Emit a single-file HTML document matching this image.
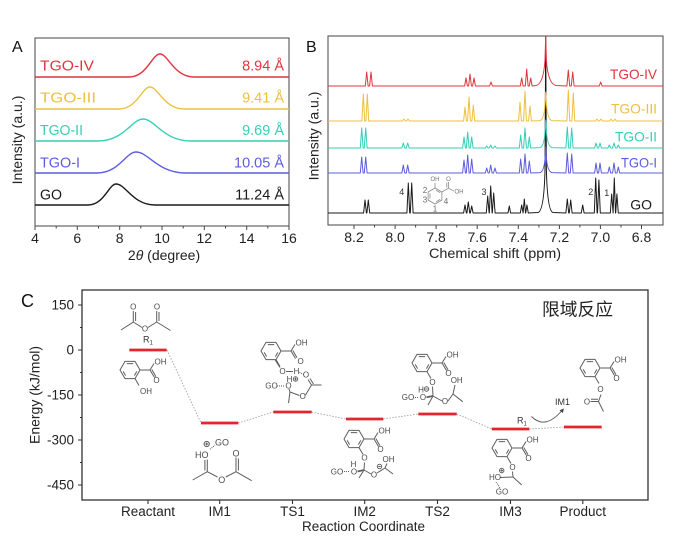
<!DOCTYPE html>
<html><head><meta charset="utf-8"><style>
html,body{margin:0;padding:0;background:#fff;}
svg{display:block;font-family:"Liberation Sans",Arial,sans-serif;}
</style></head><body>
<svg width="700" height="544" viewBox="0 0 700 544" xmlns="http://www.w3.org/2000/svg">
<defs>
<g id="sal" fill="none" stroke="#5e5e5e" stroke-width="1">
<polygon points="10,0 5,8.66 -5,8.66 -10,0 -5,-8.66 5,-8.66"/>
<path d="M-3.2,-6.4H3.2 M-4.4,5.6L-6.8,1.4 M6.8,1.4L4.4,5.6 M10,0H20 M20,0L24,-6.5 M20,0L24.5,7.5 M21.8,-0.5L26,6.8 M5,8.66L9,15.5"/>
</g>
</defs>
<rect width="700" height="544" fill="#fff"/>

<!-- ================= PANEL A ================= -->
<text x="12" y="52" font-size="16" fill="#111">A</text>
<rect x="35" y="38" width="254" height="188" fill="none" stroke="#444" stroke-width="1"/>
<g stroke="#444" stroke-width="1">
<path d="M35,226V230 M77.3,226V230 M119.7,226V230 M162,226V230 M204.3,226V230 M246.7,226V230 M289,226V230 M56.2,226V228.5 M98.5,226V228.5 M140.8,226V228.5 M183.2,226V228.5 M225.5,226V228.5 M267.8,226V228.5"/>
</g>
<g font-size="14" fill="#222" text-anchor="middle">
<text x="35" y="243">4</text><text x="77.3" y="243">6</text><text x="119.7" y="243">8</text><text x="162" y="243">10</text><text x="204.3" y="243">12</text><text x="246.7" y="243">14</text><text x="289" y="243">16</text>
</g>
<text x="164" y="260" font-size="14" fill="#222" text-anchor="middle">2<tspan font-style="italic">θ</tspan> (degree)</text>
<text transform="translate(22,140) rotate(-90)" font-size="14" fill="#222" text-anchor="middle">Intensity (a.u.)</text>
<g fill="none" stroke-width="1.4" stroke-linejoin="round">
<path stroke="#e0343c" d="M35,77 L129,77 C147,77 152,54 160,54 C168,54 174,77 194,77 L289,77"/>
<path stroke="#eec040" d="M35,109 L119,109 C137,109 142,87 150,87 C158,87 164,109 184,109 L289,109"/>
<path stroke="#34cfb6" d="M35,141 L98,141 C124,141 132,119 143,119 C155,119 163,141 191,141 L289,141"/>
<path stroke="#5c5ce0" d="M35,173 L97,173 C119,173 126,152 136,152 C148.6,152 157.6,173 186,173 L289,173"/>
<path stroke="#1a1a1a" d="M35,205 L88,205 C104,205 109,184 116,184 C125.8,184 132.8,205 155,205 L289,205"/>
</g>
<g font-size="14.5">
<text x="40" y="70.7" fill="#e0343c" textLength="54" lengthAdjust="spacingAndGlyphs">TGO-IV</text>
<text x="40" y="102.7" fill="#eec040" textLength="56" lengthAdjust="spacingAndGlyphs">TGO-III</text>
<text x="40" y="135" fill="#34cfb6" textLength="43" lengthAdjust="spacingAndGlyphs">TGO-II</text>
<text x="40" y="167.3" fill="#5c5ce0" textLength="40" lengthAdjust="spacingAndGlyphs">TGO-I</text>
<text x="40" y="199.3" fill="#1a1a1a" textLength="22" lengthAdjust="spacingAndGlyphs">GO</text>
<text x="284" y="70.7" fill="#e0343c" text-anchor="end">8.94 Å</text>
<text x="284" y="102.7" fill="#eec040" text-anchor="end">9.41 Å</text>
<text x="284" y="135" fill="#34cfb6" text-anchor="end">9.69 Å</text>
<text x="284" y="167.3" fill="#5c5ce0" text-anchor="end">10.05 Å</text>
<text x="284" y="199.3" fill="#1a1a1a" text-anchor="end">11.24 Å</text>
</g>

<!-- ================= PANEL B ================= -->
<text x="306" y="52" font-size="16" fill="#111">B</text>
<rect x="328" y="36" width="335" height="189" fill="none" stroke="#444" stroke-width="1"/>
<g stroke="#444" stroke-width="1">
<path d="M354,225V229 M395.1,225V229 M436.1,225V229 M477.2,225V229 M518.3,225V229 M559.4,225V229 M600.4,225V229 M641.5,225V229 M374.5,225V227.5 M415.6,225V227.5 M456.7,225V227.5 M497.8,225V227.5 M538.9,225V227.5 M579.9,225V227.5 M621,225V227.5"/>
</g>
<g font-size="14" fill="#222" text-anchor="middle">
<text x="354" y="242">8.2</text><text x="395.1" y="242">8.0</text><text x="436.1" y="242">7.8</text><text x="477.2" y="242">7.6</text><text x="518.3" y="242">7.4</text><text x="559.4" y="242">7.2</text><text x="600.4" y="242">7.0</text><text x="641.5" y="242">6.8</text>
</g>
<text x="495" y="258" font-size="14" fill="#222" text-anchor="middle" textLength="132" lengthAdjust="spacingAndGlyphs">Chemical shift (ppm)</text>
<text transform="translate(318.5,136) rotate(-90)" font-size="14" fill="#222" text-anchor="middle">Intensity (a.u.)</text>

<g fill="none" stroke-width="1" stroke-linejoin="round">
<path stroke="#1a1a1a" d="M328,213 L363.6,213 L365,200 L366.4,213 L366.9,213 L368.3,200 L369.7,213 L406.9,213 L408.3,183 L409.7,213 L410.3,213 L411.7,183 L413.1,213 L463.6,213 L465,205 L466.4,213 L466.9,213 L468.3,202 L469.7,213 L470.3,213 L471.7,206 L473.1,213 L486.3,213 L487.7,196 L489.1,213 L489.3,213 L490.7,186 L492.1,213 L492.3,213 L493.7,193 L495.1,213 L508,213 L509.3,206 L510.6,213 L520.3,213 L521.7,205 L523.1,213 L523.1,213 L524.3,199 L525.5,213 L525.7,213 L526.9,205 L528.3,213 L538,212.5 Q544,211 545,170 L545.7,36 L546.4,170 Q547.4,211 553,212.5 L565.9,213 L567.3,199 L568.7,213 L569.3,213 L570.7,200 L572.1,213 L581.3,213 L582.7,205 L584.1,213 L594.3,213 L595.7,178 L597.1,213 L597.5,213 L598.9,180 L600.3,213 L610.3,213 L611.7,194 L613.1,213 L613.1,213 L614.3,178 L615.5,213 L615.7,213 L616.9,194 L618.3,213 L663,213"/>
<path stroke="#e0343c" d="M328,86 L365.3,86 L366.7,72 L368.1,86 L369.6,86 L371,72 L372.4,86 L464.6,86 L466,78 L467.4,86 L468.6,86 L470,74 L471.4,86 L472.6,86 L474,78 L475.4,86 L489.6,86 L491,82 L492.4,86 L520.3,86 L521.7,78 L523.1,86 L525.3,86 L526.7,69 L528.1,86 L529.3,86 L530.7,78 L532.1,86 L536,85.5 Q543.5,84 545,60 L545.7,36 L546.4,60 Q548,84 556,85.5 L566.9,86 L568.3,70 L569.7,86 L571.3,86 L572.7,72 L574.1,86 L599.3,86 L600.7,82 L602.1,86 L663,86"/>
<path stroke="#eec040" d="M328,121 L361.9,121 L363.3,94 L364.7,121 L365.9,121 L367.3,94 L368.7,121 L402.6,121 L404,119 L405.4,121 L406.6,121 L408,119 L409.4,121 L463.6,121 L465,107 L466.4,121 L467.6,121 L469,97 L470.4,121 L471.9,121 L473.3,105 L474.7,121 L518.6,121 L520,102 L521.4,121 L523.6,121 L525,91 L526.4,121 L528.6,121 L530,106 L531.4,121 L540,120.6 Q544.5,119.5 545.2,100 L545.7,92 L546.2,100 Q547,119.5 552,120.6 L566.9,121 L568.3,90 L569.7,121 L571.9,121 L573.3,93 L574.7,121 L595.6,121 L597,119 L598.4,121 L599.6,121 L601,119 L602.4,121 L609.6,121 L611,119 L612.4,121 L613.6,121 L615,119 L616.4,121 L663,121"/>
<path stroke="#34cfb6" d="M328,148 L360.3,148 L361.7,128 L363.1,148 L364.3,148 L365.7,128 L367.1,148 L401.9,148 L403.3,143 L404.7,148 L406.3,148 L407.7,143 L409.1,148 L462.6,148 L464,137 L465.4,148 L466.3,148 L467.7,132 L469.1,148 L470.3,148 L471.7,137 L473.1,148 L485.3,148 L486.7,146 L488.1,148 L489.3,148 L490.7,145 L492.1,148 L493.6,148 L495,146 L496.4,148 L519.3,148 L520.7,135 L522.1,148 L523.6,148 L525,128 L526.4,148 L527.9,148 L529.3,137 L530.7,148 L540,147.6 Q544.5,146.5 545.2,128 L545.7,120 L546.2,128 Q547,146.5 552,147.6 L565.9,148 L567.3,127 L568.7,148 L570.3,148 L571.7,128 L573.1,148 L594.6,148 L596,143 L597.4,148 L598.6,148 L600,143 L601.4,148 L607.9,148 L609.3,145 L610.7,148 L612.6,148 L614,143 L615.4,148 L616.9,148 L618.3,145 L619.7,148 L663,148"/>
<path stroke="#5c5ce0" d="M328,173 L360.3,173 L361.7,157 L363.1,173 L364.3,173 L365.7,157 L367.1,173 L401.9,173 L403.3,165 L404.7,173 L406.3,173 L407.7,165 L409.1,173 L462.6,173 L464,160 L465.4,173 L466.3,173 L467.7,155 L469.1,173 L470.3,173 L471.7,159 L473.1,173 L485.3,173 L486.7,168 L488.1,173 L489.3,173 L490.7,165 L492.1,173 L493.6,173 L495,168 L496.4,173 L519.3,173 L520.7,159 L522.1,173 L523.6,173 L525,154 L526.4,173 L527.9,173 L529.3,161 L530.7,173 L540,172.6 Q544.5,171.5 545.2,155 L545.7,147 L546.2,155 Q547,171.5 552,172.6 L565.9,173 L567.3,153 L568.7,173 L570.3,173 L571.7,154 L573.1,173 L594.6,173 L596,163 L597.4,173 L598.6,173 L600,163 L601.4,173 L607.9,173 L609.3,167 L610.7,173 L612.6,173 L614,163 L615.4,173 L616.9,173 L618.3,167 L619.7,173 L663,173"/>
</g>
<g font-size="14">
<text x="657" y="79" fill="#e0343c" text-anchor="end" textLength="47" lengthAdjust="spacingAndGlyphs">TGO-IV</text>
<text x="657" y="113.3" fill="#eec040" text-anchor="end" textLength="46" lengthAdjust="spacingAndGlyphs">TGO-III</text>
<text x="657" y="141.7" fill="#34cfb6" text-anchor="end" textLength="42" lengthAdjust="spacingAndGlyphs">TGO-II</text>
<text x="657" y="167.7" fill="#5c5ce0" text-anchor="end" textLength="36" lengthAdjust="spacingAndGlyphs">TGO-I</text>
<text x="652" y="209.3" fill="#1a1a1a" text-anchor="end">GO</text>
</g>
<g font-size="9" fill="#333" text-anchor="middle">
<text x="401.7" y="195">4</text><text x="484" y="195">3</text><text x="590.7" y="195">2</text><text x="606.7" y="196">1</text>
</g>
<g fill="none" stroke="#8a8a8a" stroke-width="0.8">
<polygon points="435,188 441.9,192 441.9,200 435,204 428.1,200 428.1,192"/>
<path d="M430,193.5V198.5 M436,201.8L440.2,199.4 M436,190.2L440.2,192.6 M435,188V183 M441.9,192L448.5,188.2 M448.5,188.2V182 M446.8,187.5V182.5 M448.5,188.2L454,191.2"/>
</g>
<g fill="#777" font-size="6">
<text x="435" y="181" text-anchor="middle">OH</text>
<text x="448.5" y="181" text-anchor="middle">O</text>
<text x="454.5" y="193.5">OH</text>
</g>
<g fill="#666" font-size="8" text-anchor="middle">
<text x="425" y="193">2</text><text x="425" y="202.3">3</text><text x="446" y="204">4</text><text x="435" y="211.3">1</text>
</g>

<!-- ================= PANEL C ================= -->
<text x="21" y="307" font-size="18" fill="#111">C</text>
<rect x="82" y="290" width="566" height="210" fill="none" stroke="#333" stroke-width="1.3"/>
<g stroke="#333" stroke-width="1.1">
<path d="M78,305H82 M78,350H82 M78,395H82 M78,440H82 M78,485H82 M80,327.5H82 M80,372.5H82 M80,417.5H82 M80,462.5H82"/>
<path d="M148,500V504 M219.7,500V504 M292.5,500V504 M364.7,500V504 M437.5,500V504 M510.5,500V504 M582.8,500V504"/>
</g>
<g font-size="13.5" fill="#222" text-anchor="end">
<text x="74" y="309.7">150</text><text x="74" y="354.7">0</text><text x="74" y="399.7">-150</text><text x="74" y="444.7">-300</text><text x="74" y="489.7">-450</text>
</g>
<g font-size="13.5" fill="#222" text-anchor="middle">
<text x="148" y="516">Reactant</text><text x="219.7" y="516">IM1</text><text x="292.5" y="516">TS1</text><text x="364.7" y="516">IM2</text><text x="437.5" y="516">TS2</text><text x="510.5" y="516">IM3</text><text x="582.8" y="516">Product</text>
</g>
<text x="363.5" y="531" font-size="13.5" fill="#222" text-anchor="middle">Reaction Coordinate</text>
<text transform="translate(39.5,395) rotate(-90)" font-size="14" fill="#222" text-anchor="middle">Energy (kJ/mol)</text>
<text x="542" y="315.5" font-size="17.5" fill="#222" font-family="'Liberation Sans','Noto Sans CJK SC',sans-serif" textLength="71" lengthAdjust="spacingAndGlyphs">限域反应</text>

<g stroke="#9a9a9a" stroke-width="0.8" stroke-dasharray="1.5,1.5" fill="none">
<path d="M167,350L201,423 M238.3,423L273.3,412 M311.7,412L346,419 M383.3,419L418.3,414 M456.7,414L491.7,429 M529.3,429L564,427"/>
</g>
<g stroke="#e3262b" stroke-width="2.8">
<path d="M129.3,350H166.7 M201,423H238.3 M273.3,412H311.7 M346,419H383.3 M418.3,414H456.7 M491.7,429H529.3 M564,427H601.7"/>
</g>

<g fill="none" stroke="#5e5e5e" stroke-width="1">
<path d="M121,330L133.3,322 M133.3,322V311 M135.6,321V312 M133.3,322L142,327.5 M148,327.5L156.7,322 M156.7,322V311 M159,321V312 M156.7,322L170.5,330.5"/>
<path d="M192.7,480L207.3,471.7 M207.3,471.7V459.5 M204.9,470.5V460 M207.3,471.7L217.5,477 M225.8,477L236,471.7 M236,471.7V457.5 M238.4,470.5V458.5 M236,471.7L251.7,480.7"/>
<path d="M210,449.3L215,445" stroke-dasharray="1,1"/>
<circle cx="206.7" cy="444" r="2.6"/>
<path d="M205.2,444H208.2 M206.7,442.5V445.5"/>
<path d="M275,359.7L280,367.5 M286,371.5H293 M289,388.8L290,392 M290,392L288.5,403 M290,392L299.5,395.5 M305.5,395L311.5,385 M311.5,385L308,379.5 M313.5,384L310,378.5 M311.5,385H321.5"/>
<path d="M299.5,372.3L303.5,374.5 M277,386H285" stroke-dasharray="1,1"/>
<circle cx="295.5" cy="379" r="2.2"/>
<path d="M294.3,379H296.7 M295.5,377.8V380.2"/>
<path d="M364.5,462.5L364,470 M364,470L359,478 M364,470L371,474 M377,473L385,468 M385,468L387,463.5 M385,468L393,474"/>
<path d="M357.5,471.5L364,470" stroke-width="1.8"/>
<path d="M342,471.5L350,471.5" stroke-dasharray="1,1"/>
<circle cx="379.5" cy="466.5" r="2.2"/>
<path d="M378.3,466.5H380.7"/>
<path d="M432.5,386.5L433,396 M433,396L428,405 M433,396L442,401 M448,401L453,394 M453,394L455,385 M453,394L462.7,401.7"/>
<path d="M426.5,397.3L433,396" stroke-width="1.8"/>
<path d="M413,397.5L419,397.5" stroke-dasharray="1,1"/>
<circle cx="426.5" cy="389" r="2.2"/>
<path d="M425.3,389H427.7"/>
<path d="M512.5,471.5L513,477 M513,477L521.7,485 M513,477L500,477.5"/>
<path d="M496,482L500,488" stroke-dasharray="1,1"/>
<circle cx="501.7" cy="470.5" r="2.2"/>
<path d="M500.5,470.5H502.9 M501.7,469.3V471.7"/>
<path d="M601,394.5L598.5,401.5 M598.5,401.5H590.5 M598,399.3H591 M598.5,401.5L603.5,411.5"/>
<path d="M531.5,416.5Q545,430 561.5,411" stroke="#555" stroke-width="0.9"/>
</g>
<polygon points="564,408.5 559.5,410.2 562.8,413" fill="#444"/>
<use href="#sal" transform="translate(130,370)"/>
<use href="#sal" transform="translate(271,351)"/>
<use href="#sal" transform="translate(354,439)"/>
<use href="#sal" transform="translate(422,363)"/>
<use href="#sal" transform="translate(502,448)"/>
<use href="#sal" transform="translate(590,368)"/>

<g fill="#4a4a4a" font-size="8">
<text x="133.3" y="309.5" text-anchor="middle">O</text>
<text x="145" y="331.5" text-anchor="middle">O</text>
<text x="157" y="309.5" text-anchor="middle">O</text>
<text x="143" y="342.5" font-size="9" fill="#333">R<tspan font-size="6" dy="2">1</tspan></text>
<text x="154.5" y="364.5">OH</text>
<text x="156.5" y="383" text-anchor="middle">O</text>
<text x="140" y="394">OH</text>
<text x="195" y="458" font-size="9">HO</text>
<text x="215" y="445.5" font-size="9">GO</text>
<text x="221.7" y="483" text-anchor="middle" font-size="9">O</text>
<text x="236" y="456.5" text-anchor="middle" font-size="9">O</text>
<text x="295.5" y="345.5">OH</text>
<text x="297.5" y="364">O</text>
<text x="282.5" y="374" text-anchor="middle">O</text>
<text x="296.5" y="374" text-anchor="middle">H</text>
<text x="306" y="377.5" text-anchor="middle">O</text>
<text x="289.5" y="382" text-anchor="middle">H</text>
<text x="271.5" y="388.5" text-anchor="middle">GO</text>
<text x="288.5" y="388.5" text-anchor="middle">O</text>
<text x="302.7" y="399" text-anchor="middle">O</text>
<text x="378.5" y="433.5">OH</text>
<text x="380.5" y="452" text-anchor="middle">O</text>
<text x="364.5" y="460.5" text-anchor="middle">O</text>
<text x="353.5" y="467" text-anchor="middle">H</text>
<text x="354" y="474.5" text-anchor="middle">O</text>
<text x="337" y="474.5" text-anchor="middle">GO</text>
<text x="374" y="477.5" text-anchor="middle">O</text>
<text x="388.5" y="462" text-anchor="middle">OH</text>
<text x="446.5" y="357.5">OH</text>
<text x="448.5" y="376" text-anchor="middle">O</text>
<text x="432.5" y="385" text-anchor="middle">O</text>
<text x="421" y="392.5" text-anchor="middle">H</text>
<text x="423" y="400" text-anchor="middle">O</text>
<text x="408" y="400" text-anchor="middle">GO</text>
<text x="445" y="404" text-anchor="middle">O</text>
<text x="456.7" y="383" text-anchor="middle">OH</text>
<text x="526.5" y="442.5">OH</text>
<text x="528.5" y="461" text-anchor="middle">O</text>
<text x="512.5" y="470" text-anchor="middle">O</text>
<text x="495" y="480" text-anchor="middle">HO</text>
<text x="502" y="494.5" text-anchor="middle">GO</text>
<text x="614.5" y="362.5">OH</text>
<text x="616.5" y="381" text-anchor="middle">O</text>
<text x="600.5" y="392" text-anchor="middle">O</text>
<text x="587" y="404.5" text-anchor="middle">O</text>
<text x="517" y="423.5" font-size="9" fill="#333">R<tspan font-size="6" dy="2">1</tspan></text>
<text x="562.5" y="405" font-size="9" fill="#333" text-anchor="middle">IM1</text>
</g>
</svg>
</body></html>
